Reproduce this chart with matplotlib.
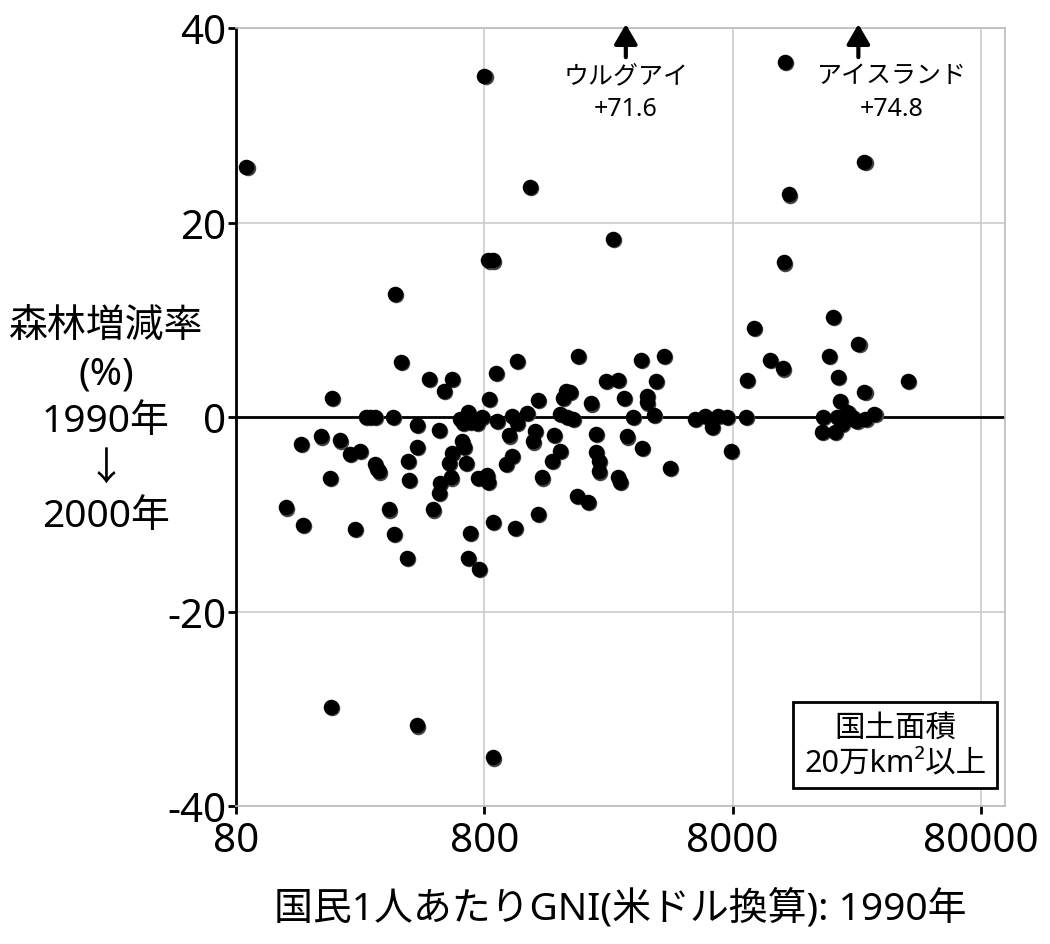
import matplotlib
matplotlib.use("Agg")
import matplotlib.pyplot as plt
import matplotlib.transforms as mtransforms

plt.rcParams['font.family'] = ['Noto Sans', 'Noto Sans CJK JP', 'DejaVu Sans']
plt.rcParams['axes.unicode_minus'] = False

# 国民1人あたりGNI (米ドル, 1990年)
gni = [
    88, 127, 146, 149, 176, 191, 193, 195, 209, 230,
    241, 253, 266, 277, 290, 290, 295, 301, 330, 342,
    345, 350, 369, 390, 393, 397, 428, 428, 428, 479,
    496, 523, 528, 523, 549, 575, 587, 592, 592, 638,
    650, 656, 662, 675, 688, 688, 701, 701, 747, 753,
    760, 781, 800, 819, 826, 834, 830, 866, 866, 866,
    890, 899, 976, 1004, 1032, 1032, 1062, 1082, 1082, 1184,
    1219, 1254, 1278, 1314, 1314, 1363, 1495, 1523, 1607, 1607,
    1656, 1704, 1720, 1767, 1819, 1885, 1903, 2087, 2146, 2250,
    2250, 2315, 2315, 2464, 2630, 2757, 2757, 2814, 2913, 2994,
    3170, 3418, 3452, 3609, 3609, 3848, 3920, 4216, 4466,
    5617, 6173, 6584, 6963, 7568, 7853, 9024, 9118, 9720, 11280,
    12712, 12900, 13020, 13440, 18240, 18420, 19540, 20260, 20630, 21030,
    21230, 21600, 22000, 22230, 23200, 24290, 25200, 25660, 27140, 27140,
    27400, 29760, 40500,
]
# 森林増減率 (%) 1990年→2000年
forest = [
    25.7, -9.3, -2.8, -11.1, -2.0, -6.3, -29.8, 1.95, -2.4, -3.8,
    -11.5, -3.5, 0.0, 0.0, 0.0, -4.8, -5.3, -5.6, -9.5, 0.0,
    -12.0, 12.7, 5.7, -14.5, -4.5, -6.5, -0.8, -3.1, -31.7, 3.9,
    -9.5, -7.8, -6.8, -1.3, 2.7, -4.7, -6.2, 3.9, -3.7, -0.2,
    -2.5, -0.6, -3.1, -4.7, 0.5, -14.5, -0.5, -11.9, -0.6, -6.3,
    -15.6, 0.0, 35.1, -6.0, -6.7, 1.85, 16.1, 16.1, -10.8, -35.0,
    4.5, -0.4, -4.8, -1.9, 0.1, -4.0, -11.4, 5.8, -0.6, 0.4,
    23.7, -2.5, -1.4, 1.75, -10.0, -6.2, -4.5, -1.85, -3.5, 0.3,
    1.95, 2.7, 0.0, 2.6, -0.2, -8.1, 6.3, -8.7, 1.4, -1.75,
    -3.6, -4.5, -5.6, 3.7, 18.3, 3.8, -6.2, -6.7, 1.95, -2.0,
    0.0, 5.9, -3.2, 2.2, 1.5, 0.2, 3.7, 6.3, -5.2,
    -0.2, 0.1, -1.0, 0.1, 0.0, -3.5, 0.0, 3.8, 9.2, 5.9,
    5.0, 15.9, 36.5, 22.9, -1.5, 0.0, 6.3, 10.3, -1.5, 0.0,
    4.1, 1.65, -0.7, -0.2, 0.5, 0.0, -0.4, 7.5, 2.6, 26.2,
    -0.2, 0.3, 3.7,
]

# 枠外の国
off_names = ['ウルグアイ\n+71.6', 'アイスランド\n+74.8']
off_gni = [2970, 25660]
off_text_gni = [2970, 35000]

fig = plt.figure(figsize=(10.5, 9.45), dpi=100)
ax = fig.add_axes([0.2248, 0.146, 0.7324, 0.8233])

ax.set_xscale('log')
ax.set_xlim(80, 100000)
ax.set_ylim(-40, 40)

ax.set_xticks([80, 800, 8000, 80000])
ax.set_xticklabels(['80', '800', '8000', '80000'])
ax.minorticks_off()
ax.set_yticks([-40, -20, 0, 20, 40])
ax.set_yticklabels(['-40', '-20', '0', '20', '40'])
ax.tick_params(labelsize=29, length=6, width=2, color='black')
ax.tick_params(axis='x', pad=5)
ax.tick_params(axis='y', pad=1)

ax.grid(True, color='#cccccc', linewidth=1.2)
ax.set_axisbelow(True)
for s in ['top', 'right', 'bottom']:
    ax.spines[s].set_color('#bbbbbb')
    ax.spines[s].set_linewidth(1.2)
ax.spines['left'].set_color('black')
ax.spines['left'].set_linewidth(2)

ax.axhline(0, color='black', linewidth=2, zorder=2)

shadow = mtransforms.offset_copy(ax.transData, fig=fig, x=1.2, y=-1.2, units='dots')
ax.scatter(gni, forest, s=125, color='#444444', linewidths=0, transform=shadow, zorder=3)
ax.scatter(gni, forest, s=125, color='black', linewidths=0, zorder=4)

for name, xa, xt in zip(off_names, off_gni, off_text_gni):
    ax.annotate('', xy=(xa, 40.4), xytext=(xa, 37.0),
                arrowprops=dict(arrowstyle='-|>,head_length=0.6,head_width=0.35',
                                color='black', lw=3, mutation_scale=20,
                                shrinkA=0, shrinkB=0),
                annotation_clip=False)
    ax.text(xt, 36.4, name, ha='center', va='top', fontsize=18, linespacing=1.4)

ax.text(0.857, 0.078, '国土面積\n20万km²以上', transform=ax.transAxes,
        ha='center', va='center', fontsize=22, linespacing=1.2,
        bbox=dict(boxstyle='square,pad=0.35', facecolor='white', edgecolor='black', linewidth=2))

ax.set_xlabel('国民1人あたりGNI(米ドル換算): 1990年', fontsize=28, labelpad=19)
fig.text(106 / 1050, 1 - 422 / 945, '森林増減率\n(%)\n1990年\n↓\n2000年',
         ha='center', va='center', fontsize=28, linespacing=1.33)

fig.savefig('out.png', dpi=100)
